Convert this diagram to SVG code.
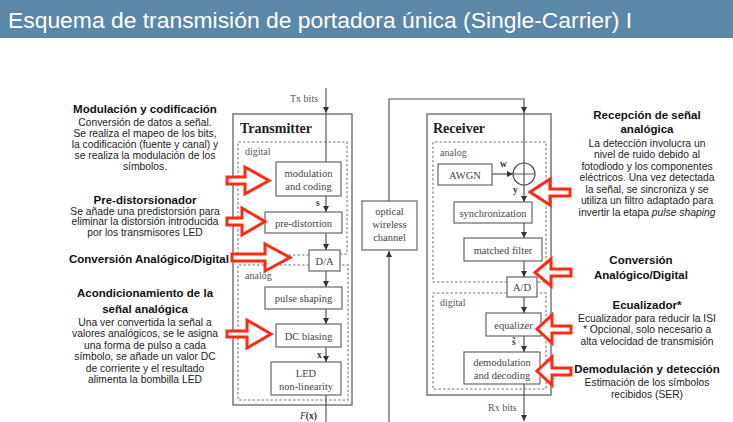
<svg xmlns="http://www.w3.org/2000/svg" width="733" height="422" viewBox="0 0 733 422">
  <defs>
    <marker id="ah" markerUnits="userSpaceOnUse" markerWidth="7" markerHeight="7" refX="6" refY="3" orient="auto">
      <path d="M0,0 L6,3 L0,6 z" fill="#333"/>
    </marker>
    <style>
      .title { font-family: "Liberation Sans", Arial, sans-serif; font-size: 22px; fill: #ffffff; }
      .head { font-family: "Liberation Sans", Arial, sans-serif; font-size: 11.5px; font-weight: bold; fill: #111; text-anchor: middle; }
      .body { font-family: "Liberation Sans", Arial, sans-serif; font-size: 10.3px; fill: #222; text-anchor: middle; }
      .frame { fill: #fff; stroke: #777; stroke-width: 1.5; }
      .zone { fill: none; stroke: #777; stroke-width: 1.1; stroke-dasharray: 2.5 2; }
      .box { fill: #fff; stroke: #666; stroke-width: 1.2; }
      .bt { font-family: "Liberation Serif", "Times New Roman", serif; font-size: 10.5px; fill: #444; text-anchor: middle; }
      .zt { font-family: "Liberation Serif", "Times New Roman", serif; font-size: 10px; fill: #555; }
      .big { font-family: "Liberation Serif", "Times New Roman", serif; font-size: 14px; font-weight: bold; fill: #222; }
      .sym { font-family: "Liberation Serif", "Times New Roman", serif; font-size: 9.5px; font-weight: bold; fill: #333; }
      .wire { fill: none; stroke: #555; stroke-width: 1.2; }
      .hint { fill: #fff; stroke: #ff2a14; stroke-width: 3; stroke-linejoin: miter; }
    </style>
  </defs>

  <!-- title bar -->
  <rect x="0" y="0" width="733" height="38" fill="#5b88a9"/>
  <text class="title" x="8" y="28" textLength="624" lengthAdjust="spacingAndGlyphs">Esquema de transmisión de portadora única (Single-Carrier) I</text>

  <!-- transmitter frame -->
  <g id="transmitter">
    <rect class="frame" x="233" y="114" width="119" height="291"/>
    <text class="big" x="240" y="133">Transmitter</text>
    <path class="zone" d="M309,255 H238 V142 H347 V254 H340"/>
    <path class="zone" d="M309,265 H238 V400 H348 V265 H340"/>
    <text class="zt" x="245" y="155">digital</text>
    <text class="zt" x="245" y="279">analog</text>
  </g>

  <!-- receiver frame -->
  <g id="receiver">
    <rect class="frame" x="427" y="114" width="124" height="281"/>
    <text class="big" x="433" y="133">Receiver</text>
    <path class="zone" d="M507,282 H433 V142 H546 V282 H537"/>
    <path class="zone" d="M507,293 H433 V389 H546 V293 H537"/>
    <text class="zt" x="440" y="156">analog</text>
    <text class="zt" x="440" y="306">digital</text>
  </g>

  <!-- connectors -->
  <g id="connectors">
    <path class="wire" d="M326,88 V113" marker-end="url(#ah)"/>
    <path class="wire" d="M326,113 V162"/>
    <path class="wire" d="M326,196 V212" marker-end="url(#ah)"/>
    <path class="wire" d="M326,233 V250" marker-end="url(#ah)"/>
    <path class="wire" d="M326,271 V287" marker-end="url(#ah)"/>
    <path class="wire" d="M326,309 V324" marker-end="url(#ah)"/>
    <path class="wire" d="M326,347 V362" marker-end="url(#ah)"/>
    <path class="wire" d="M326,395 V432 H389 V251" marker-end="url(#ah)"/>
    <path class="wire" d="M389,201 V99 H524 V113" marker-end="url(#ah)"/>
    <path class="wire" d="M524,113 V163"/>
    <path class="wire" d="M492,174 H513" marker-end="url(#ah)"/>
    <path class="wire" d="M524,185 V202" marker-end="url(#ah)"/>
    <path class="wire" d="M524,223 V238" marker-end="url(#ah)"/>
    <path class="wire" d="M524,261 V277" marker-end="url(#ah)"/>
    <path class="wire" d="M524,297 V313" marker-end="url(#ah)"/>
    <path class="wire" d="M524,336 V352" marker-end="url(#ah)"/>
    <path class="wire" d="M524,384 V421" marker-end="url(#ah)"/>
    <text class="zt" x="290" y="102" fill="#444">Tx bits</text>
    <text class="sym" x="316" y="206">s</text>
    <text class="sym" x="317" y="358">x</text>
    <text class="sym" x="300" y="419"><tspan font-style="italic" font-weight="normal">F</tspan>(x)</text>
    <text class="sym" x="500" y="167">w</text>
    <text class="sym" x="513" y="193">y</text>
    <text class="sym" x="512" y="345">s̃</text>
    <text class="zt" x="488" y="411" fill="#444">Rx bits</text>
  </g>

  <!-- transmitter blocks -->
  <g id="modulation">
    <rect class="box" x="276" y="162" width="65" height="34"/>
    <text class="bt" x="308.5" y="177">modulation</text>
    <text class="bt" x="308.5" y="190">and coding</text>
  </g>
  <g id="predistortion">
    <rect class="box" x="265" y="212" width="77" height="21"/>
    <text class="bt" x="303.5" y="226.5">pre-distortion</text>
  </g>
  <g id="da">
    <rect class="box" x="309" y="250" width="31" height="21"/>
    <text class="bt" x="324.5" y="264.5">D/A</text>
  </g>
  <g id="pulse">
    <rect class="box" x="265" y="287" width="77" height="22"/>
    <text class="bt" x="303.5" y="302">pulse shaping</text>
  </g>
  <g id="dcbias">
    <rect class="box" x="276" y="324" width="65" height="23"/>
    <text class="bt" x="308.5" y="339.5">DC biasing</text>
  </g>
  <g id="led">
    <rect class="box" x="271" y="362" width="70" height="33"/>
    <text class="bt" x="306" y="377" fill="#888">LED</text>
    <text class="bt" x="306" y="390">non-linearity</text>
  </g>

  <!-- channel -->
  <g id="channel">
    <rect class="box" x="362" y="201" width="55" height="49"/>
    <text class="bt" x="389.5" y="215">optical</text>
    <text class="bt" x="389.5" y="228">wireless</text>
    <text class="bt" x="389.5" y="241">channel</text>
  </g>

  <!-- receiver blocks -->
  <g id="awgn">
    <rect class="box" x="438" y="164" width="54" height="21"/>
    <text class="bt" x="465" y="178.5">AWGN</text>
  </g>
  <g id="adder">
    <circle cx="524" cy="174" r="11" fill="#fff" stroke="#555" stroke-width="1.2"/>
    <path d="M513,174 H535 M524,163 V185" stroke="#555" stroke-width="1.2"/>
  </g>
  <g id="sync">
    <rect class="box" x="454" y="202" width="78" height="21"/>
    <text class="bt" x="493" y="216.5">synchronization</text>
  </g>
  <g id="matched">
    <rect class="box" x="464" y="238" width="78" height="23"/>
    <text class="bt" x="503" y="253.5">matched filter</text>
  </g>
  <g id="ad">
    <rect class="box" x="507" y="277" width="30" height="20"/>
    <text class="bt" x="522" y="291">A/D</text>
  </g>
  <g id="equalizer">
    <rect class="box" x="486" y="313" width="55" height="23"/>
    <text class="bt" x="513.5" y="328.5">equalizer</text>
  </g>
  <g id="demod">
    <rect class="box" x="464" y="352" width="76" height="32"/>
    <text class="bt" x="502" y="366">demodulation</text>
    <text class="bt" x="502" y="379">and decoding</text>
  </g>

  <!-- red pointer arrows -->
  <g id="pointers">
    <polygon class="hint" points="227,177 245,177 245,167 269,180.5 245,194 245,184 227,184"/>
    <polygon class="hint" points="227,218 242,218 242,208 265,221.5 242,235 242,225 227,225"/>
    <polygon class="hint" points="232,254 265,254 265,244 290,257.5 265,271 265,261 232,261"/>
    <polygon class="hint" points="227,331 247,331 247,320 271,334 247,348 247,337 227,337"/>
    <polygon class="hint" points="570,189 550,189 550,179 530,192 550,205 550,196 570,196"/>
    <polygon class="hint" points="571,269 551,269 551,259 535,272.5 551,286 551,276 571,276"/>
    <polygon class="hint" points="571,326 552,326 552,315 537,329 552,343 552,333 571,333"/>
    <polygon class="hint" points="571,368 552,368 552,357 537,371 552,385 552,375 571,375"/>
  </g>

  <!-- left notes -->
  <g id="note-mod">
    <text class="head" x="145" y="113">Modulación y codificación</text>
    <text class="body" x="145" y="126">Conversión de datos a señal.</text>
    <text class="body" x="145" y="137">Se realiza el mapeo de los bits,</text>
    <text class="body" x="145" y="148">la codificación (fuente y canal) y</text>
    <text class="body" x="145" y="159">se realiza la modulación de los</text>
    <text class="body" x="145" y="170">símbolos.</text>
  </g>
  <g id="note-pre">
    <text class="head" x="145" y="204">Pre-distorsionador</text>
    <text class="body" x="145" y="214.5">Se añade una predistorsión para</text>
    <text class="body" x="145" y="225">eliminar la distorsión introducida</text>
    <text class="body" x="145" y="235.5">por los transmisores LED</text>
  </g>
  <g id="note-da">
    <text class="head" x="149" y="263">Conversión Analógico/Digital</text>
  </g>
  <g id="note-analog">
    <text class="head" x="145" y="297">Acondicionamiento de la</text>
    <text class="head" x="145" y="313">señal analógica</text>
    <text class="body" x="145" y="325.5">Una ver convertida la señal a</text>
    <text class="body" x="145" y="337">valores analógicos, se le asigna</text>
    <text class="body" x="145" y="348.5">una forma de pulso a cada</text>
    <text class="body" x="145" y="360">símbolo, se añade un valor DC</text>
    <text class="body" x="145" y="371.5">de corriente y el resultado</text>
    <text class="body" x="145" y="383">alimenta la bombilla LED</text>
  </g>

  <!-- right notes -->
  <g id="note-rx">
    <text class="head" x="647" y="119">Recepción de señal</text>
    <text class="head" x="647" y="133">analógica</text>
    <text class="body" x="647" y="146.5">La detección involucra un</text>
    <text class="body" x="647" y="158">nivel de ruido debido al</text>
    <text class="body" x="647" y="169.5">fotodiodo y los componentes</text>
    <text class="body" x="647" y="181">eléctricos. Una vez detectada</text>
    <text class="body" x="647" y="192.5">la señal, se sincroniza y se</text>
    <text class="body" x="647" y="204">utiliza un filtro adaptado para</text>
    <text class="body" x="647" y="215.5">invertir la etapa <tspan font-style="italic">pulse shaping</tspan></text>
  </g>
  <g id="note-ad">
    <text class="head" x="641" y="264">Conversión</text>
    <text class="head" x="641" y="279">Analógico/Digital</text>
  </g>
  <g id="note-eq">
    <text class="head" x="647" y="309">Ecualizador*</text>
    <text class="body" x="647" y="321.5">Ecualizador para reducir la ISI</text>
    <text class="body" x="647" y="333">* Opcional, solo necesario a</text>
    <text class="body" x="647" y="344.5">alta velocidad de transmisión</text>
  </g>
  <g id="note-demod">
    <text class="head" x="647" y="373">Demodulación y detección</text>
    <text class="body" x="647" y="385.5">Estimación de los símbolos</text>
    <text class="body" x="647" y="398">recibidos (SER)</text>
  </g>
</svg>
